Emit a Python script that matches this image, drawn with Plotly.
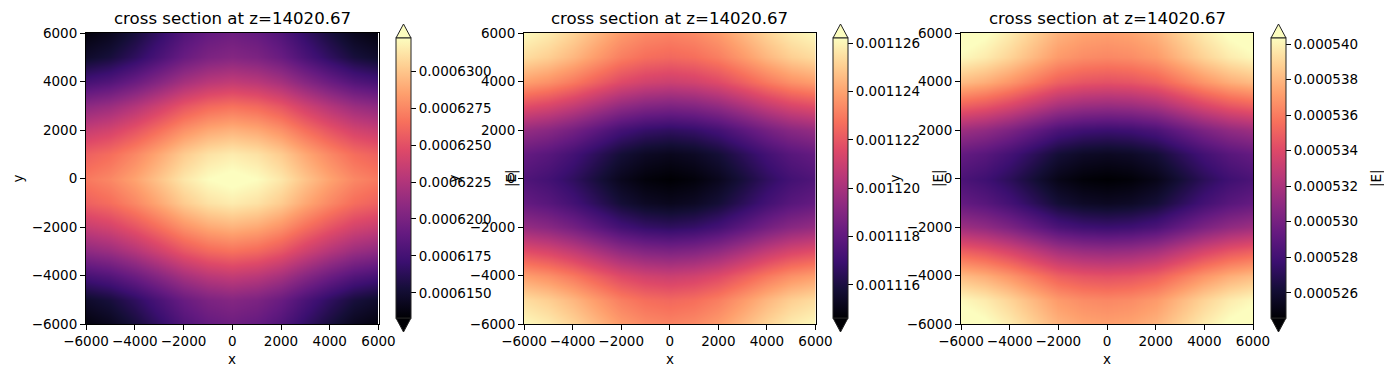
import plotly.graph_objects as go

W, H = 1392, 377
OFF = 8  # the page body adds an 8 px margin; the figure is drawn to fill the rest
FW, FH = W - OFF, H - OFF

x_vals = [-6000, -5000, -4000, -3000, -2000, -1000, 0, 1000, 2000, 3000, 4000, 5000, 6000]
y_vals = [6000, 5000, 4000, 3000, 2000, 1000, 0, -1000, -2000, -3000, -4000, -5000, -6000]

axis_ticks = [-6000, -4000, -2000, 0, 2000, 4000, 6000]
axis_ticktext = ["\u22126000", "\u22124000", "\u22122000", "0", "2000", "4000", "6000"]

title_text = "cross section at z=14020.67"

# |E| field, panel 1 (rows y = 6000 .. -6000, columns x = -6000 .. 6000)
E1 = [
    [6.137e-4, 6.143e-4, 6.154e-4, 6.167e-4, 6.181e-4, 6.190e-4, 6.194e-4, 6.190e-4, 6.181e-4, 6.167e-4, 6.154e-4, 6.143e-4, 6.137e-4],
    [6.148e-4, 6.154e-4, 6.165e-4, 6.178e-4, 6.192e-4, 6.201e-4, 6.205e-4, 6.201e-4, 6.192e-4, 6.178e-4, 6.165e-4, 6.154e-4, 6.148e-4],
    [6.176e-4, 6.182e-4, 6.193e-4, 6.206e-4, 6.220e-4, 6.229e-4, 6.233e-4, 6.229e-4, 6.220e-4, 6.206e-4, 6.193e-4, 6.182e-4, 6.176e-4],
    [6.209e-4, 6.215e-4, 6.226e-4, 6.239e-4, 6.253e-4, 6.262e-4, 6.266e-4, 6.262e-4, 6.253e-4, 6.239e-4, 6.226e-4, 6.215e-4, 6.209e-4],
    [6.235e-4, 6.241e-4, 6.252e-4, 6.265e-4, 6.279e-4, 6.288e-4, 6.292e-4, 6.288e-4, 6.279e-4, 6.265e-4, 6.252e-4, 6.241e-4, 6.235e-4],
    [6.258e-4, 6.264e-4, 6.275e-4, 6.288e-4, 6.302e-4, 6.311e-4, 6.315e-4, 6.311e-4, 6.302e-4, 6.288e-4, 6.275e-4, 6.264e-4, 6.258e-4],
    [6.269e-4, 6.275e-4, 6.286e-4, 6.299e-4, 6.313e-4, 6.322e-4, 6.326e-4, 6.322e-4, 6.313e-4, 6.299e-4, 6.286e-4, 6.275e-4, 6.269e-4],
    [6.258e-4, 6.264e-4, 6.275e-4, 6.288e-4, 6.302e-4, 6.311e-4, 6.315e-4, 6.311e-4, 6.302e-4, 6.288e-4, 6.275e-4, 6.264e-4, 6.258e-4],
    [6.235e-4, 6.241e-4, 6.252e-4, 6.265e-4, 6.279e-4, 6.288e-4, 6.292e-4, 6.288e-4, 6.279e-4, 6.265e-4, 6.252e-4, 6.241e-4, 6.235e-4],
    [6.209e-4, 6.215e-4, 6.226e-4, 6.239e-4, 6.253e-4, 6.262e-4, 6.266e-4, 6.262e-4, 6.253e-4, 6.239e-4, 6.226e-4, 6.215e-4, 6.209e-4],
    [6.176e-4, 6.182e-4, 6.193e-4, 6.206e-4, 6.220e-4, 6.229e-4, 6.233e-4, 6.229e-4, 6.220e-4, 6.206e-4, 6.193e-4, 6.182e-4, 6.176e-4],
    [6.148e-4, 6.154e-4, 6.165e-4, 6.178e-4, 6.192e-4, 6.201e-4, 6.205e-4, 6.201e-4, 6.192e-4, 6.178e-4, 6.165e-4, 6.154e-4, 6.148e-4],
    [6.137e-4, 6.143e-4, 6.154e-4, 6.167e-4, 6.181e-4, 6.190e-4, 6.194e-4, 6.190e-4, 6.181e-4, 6.167e-4, 6.154e-4, 6.143e-4, 6.137e-4],
]

# |E| field, panel 2
E2 = [
    [1.12611e-3, 1.12576e-3, 1.12518e-3, 1.12448e-3, 1.12379e-3, 1.12338e-3, 1.12321e-3, 1.12338e-3, 1.12379e-3, 1.12448e-3, 1.12518e-3, 1.12576e-3, 1.12611e-3],
    [1.12541e-3, 1.12506e-3, 1.12448e-3, 1.12378e-3, 1.12309e-3, 1.12268e-3, 1.12251e-3, 1.12268e-3, 1.12309e-3, 1.12378e-3, 1.12448e-3, 1.12506e-3, 1.12541e-3],
    [1.12390e-3, 1.12355e-3, 1.12297e-3, 1.12227e-3, 1.12158e-3, 1.12117e-3, 1.12100e-3, 1.12117e-3, 1.12158e-3, 1.12227e-3, 1.12297e-3, 1.12355e-3, 1.12390e-3],
    [1.12170e-3, 1.12135e-3, 1.12077e-3, 1.12007e-3, 1.11938e-3, 1.11897e-3, 1.11880e-3, 1.11897e-3, 1.11938e-3, 1.12007e-3, 1.12077e-3, 1.12135e-3, 1.12170e-3],
    [1.11950e-3, 1.11915e-3, 1.11857e-3, 1.11787e-3, 1.11718e-3, 1.11677e-3, 1.11660e-3, 1.11677e-3, 1.11718e-3, 1.11787e-3, 1.11857e-3, 1.11915e-3, 1.11950e-3],
    [1.11811e-3, 1.11776e-3, 1.11718e-3, 1.11648e-3, 1.11579e-3, 1.11538e-3, 1.11521e-3, 1.11538e-3, 1.11579e-3, 1.11648e-3, 1.11718e-3, 1.11776e-3, 1.11811e-3],
    [1.11753e-3, 1.11718e-3, 1.11660e-3, 1.11590e-3, 1.11521e-3, 1.11480e-3, 1.11463e-3, 1.11480e-3, 1.11521e-3, 1.11590e-3, 1.11660e-3, 1.11718e-3, 1.11753e-3],
    [1.11811e-3, 1.11776e-3, 1.11718e-3, 1.11648e-3, 1.11579e-3, 1.11538e-3, 1.11521e-3, 1.11538e-3, 1.11579e-3, 1.11648e-3, 1.11718e-3, 1.11776e-3, 1.11811e-3],
    [1.11950e-3, 1.11915e-3, 1.11857e-3, 1.11787e-3, 1.11718e-3, 1.11677e-3, 1.11660e-3, 1.11677e-3, 1.11718e-3, 1.11787e-3, 1.11857e-3, 1.11915e-3, 1.11950e-3],
    [1.12170e-3, 1.12135e-3, 1.12077e-3, 1.12007e-3, 1.11938e-3, 1.11897e-3, 1.11880e-3, 1.11897e-3, 1.11938e-3, 1.12007e-3, 1.12077e-3, 1.12135e-3, 1.12170e-3],
    [1.12390e-3, 1.12355e-3, 1.12297e-3, 1.12227e-3, 1.12158e-3, 1.12117e-3, 1.12100e-3, 1.12117e-3, 1.12158e-3, 1.12227e-3, 1.12297e-3, 1.12355e-3, 1.12390e-3],
    [1.12541e-3, 1.12506e-3, 1.12448e-3, 1.12378e-3, 1.12309e-3, 1.12268e-3, 1.12251e-3, 1.12268e-3, 1.12309e-3, 1.12378e-3, 1.12448e-3, 1.12506e-3, 1.12541e-3],
    [1.12611e-3, 1.12576e-3, 1.12518e-3, 1.12448e-3, 1.12379e-3, 1.12338e-3, 1.12321e-3, 1.12338e-3, 1.12379e-3, 1.12448e-3, 1.12518e-3, 1.12576e-3, 1.12611e-3],
]

# |E| field, panel 3
E3 = [
    [5.4097e-4, 5.4050e-4, 5.3971e-4, 5.3877e-4, 5.3782e-4, 5.3735e-4, 5.3719e-4, 5.3735e-4, 5.3782e-4, 5.3877e-4, 5.3971e-4, 5.4050e-4, 5.4097e-4],
    [5.4018e-4, 5.3971e-4, 5.3892e-4, 5.3798e-4, 5.3703e-4, 5.3656e-4, 5.3640e-4, 5.3656e-4, 5.3703e-4, 5.3798e-4, 5.3892e-4, 5.3971e-4, 5.4018e-4],
    [5.3813e-4, 5.3766e-4, 5.3687e-4, 5.3593e-4, 5.3498e-4, 5.3451e-4, 5.3435e-4, 5.3451e-4, 5.3498e-4, 5.3593e-4, 5.3687e-4, 5.3766e-4, 5.3813e-4],
    [5.3497e-4, 5.3450e-4, 5.3371e-4, 5.3277e-4, 5.3182e-4, 5.3135e-4, 5.3119e-4, 5.3135e-4, 5.3182e-4, 5.3277e-4, 5.3371e-4, 5.3450e-4, 5.3497e-4],
    [5.3150e-4, 5.3103e-4, 5.3024e-4, 5.2930e-4, 5.2835e-4, 5.2788e-4, 5.2772e-4, 5.2788e-4, 5.2835e-4, 5.2930e-4, 5.3024e-4, 5.3103e-4, 5.3150e-4],
    [5.2930e-4, 5.2883e-4, 5.2804e-4, 5.2710e-4, 5.2615e-4, 5.2568e-4, 5.2552e-4, 5.2568e-4, 5.2615e-4, 5.2710e-4, 5.2804e-4, 5.2883e-4, 5.2930e-4],
    [5.2835e-4, 5.2788e-4, 5.2709e-4, 5.2615e-4, 5.2520e-4, 5.2473e-4, 5.2457e-4, 5.2473e-4, 5.2520e-4, 5.2615e-4, 5.2709e-4, 5.2788e-4, 5.2835e-4],
    [5.2930e-4, 5.2883e-4, 5.2804e-4, 5.2710e-4, 5.2615e-4, 5.2568e-4, 5.2552e-4, 5.2568e-4, 5.2615e-4, 5.2710e-4, 5.2804e-4, 5.2883e-4, 5.2930e-4],
    [5.3150e-4, 5.3103e-4, 5.3024e-4, 5.2930e-4, 5.2835e-4, 5.2788e-4, 5.2772e-4, 5.2788e-4, 5.2835e-4, 5.2930e-4, 5.3024e-4, 5.3103e-4, 5.3150e-4],
    [5.3497e-4, 5.3450e-4, 5.3371e-4, 5.3277e-4, 5.3182e-4, 5.3135e-4, 5.3119e-4, 5.3135e-4, 5.3182e-4, 5.3277e-4, 5.3371e-4, 5.3450e-4, 5.3497e-4],
    [5.3813e-4, 5.3766e-4, 5.3687e-4, 5.3593e-4, 5.3498e-4, 5.3451e-4, 5.3435e-4, 5.3451e-4, 5.3498e-4, 5.3593e-4, 5.3687e-4, 5.3766e-4, 5.3813e-4],
    [5.4018e-4, 5.3971e-4, 5.3892e-4, 5.3798e-4, 5.3703e-4, 5.3656e-4, 5.3640e-4, 5.3656e-4, 5.3703e-4, 5.3798e-4, 5.3892e-4, 5.3971e-4, 5.4018e-4],
    [5.4097e-4, 5.4050e-4, 5.3971e-4, 5.3877e-4, 5.3782e-4, 5.3735e-4, 5.3719e-4, 5.3735e-4, 5.3782e-4, 5.3877e-4, 5.3971e-4, 5.4050e-4, 5.4097e-4],
]

# colour limits
zlims = [(6.1331e-4, 6.3223e-4), (1.11463e-3, 1.12622e-3), (5.2458e-4, 5.4034e-4)]

# colorbar ticks
cb_ticks1 = [6.150e-4, 6.175e-4, 6.200e-4, 6.225e-4, 6.250e-4, 6.275e-4, 6.300e-4]
cb_text1 = ["0.0006150", "0.0006175", "0.0006200", "0.0006225", "0.0006250", "0.0006275", "0.0006300"]
cb_ticks2 = [1.116e-3, 1.118e-3, 1.120e-3, 1.122e-3, 1.124e-3, 1.126e-3]
cb_text2 = ["0.001116", "0.001118", "0.001120", "0.001122", "0.001124", "0.001126"]
cb_ticks3 = [5.26e-4, 5.28e-4, 5.30e-4, 5.32e-4, 5.34e-4, 5.36e-4, 5.38e-4, 5.40e-4]
cb_text3 = ["0.000526", "0.000528", "0.000530", "0.000532", "0.000534", "0.000536", "0.000538", "0.000540"]

magma = [
    [0.0, "#000004"], [0.1, "#140e36"], [0.2, "#3b0f70"], [0.3, "#641a80"],
    [0.4, "#8c2981"], [0.5, "#b73779"], [0.6, "#de4968"], [0.7, "#f7705c"],
    [0.8, "#fe9f6d"], [0.9, "#fecf92"], [1.0, "#fcfdbf"],
]

FONT = "DejaVu Sans"
TICK_SIZE = 13.5
TITLE_SIZE = 16.6

# layout in page pixels (as seen in the reference)
plot_px = [(86, 378.5), (524, 815.5), (961, 1253)]
plot_top, plot_bot = 33, 324
cb_left = [396, 833, 1271]
cb_w = 15
cb_top, cb_bot = 38, 318
arrow_h = 14
ylabel_px = [17, 453, 894]
cblabel_px = [511, 938, 1376]


def px(v):
    return (v - OFF) / FW


def py(v):
    return 1 - (v - OFF) / FH


fig = go.Figure()
fields = [E1, E2, E3]
cb_ticks = [cb_ticks1, cb_ticks2, cb_ticks3]
cb_texts = [cb_text1, cb_text2, cb_text3]

annotations = []
shapes = []
for i in range(3):
    xa = "x" if i == 0 else f"x{i+1}"
    ya = "y" if i == 0 else f"y{i+1}"
    fig.add_trace(go.Heatmap(
        x=x_vals, y=y_vals, z=fields[i],
        zmin=zlims[i][0], zmax=zlims[i][1],
        colorscale=magma, zsmooth="best",
        xaxis=xa, yaxis=ya,
        colorbar=dict(
            x=px(cb_left[i]), xanchor="left", xpad=0, ypad=0,
            y=py((cb_top + cb_bot) / 2), yanchor="middle",
            len=(cb_bot - cb_top) / FH, lenmode="fraction",
            thickness=cb_w, thicknessmode="pixels",
            outlinewidth=1, outlinecolor="#222222",
            tickvals=cb_ticks[i], ticktext=cb_texts[i],
            ticks="outside", ticklen=5, tickwidth=1, tickcolor="black",
            tickfont=dict(family=FONT, size=TICK_SIZE, color="black"),
        ),
        hoverinfo="skip",
    ))
    axis_common = dict(
        range=[-6000, 6000], tickvals=axis_ticks, ticktext=axis_ticktext,
        ticks="outside", ticklen=5, tickwidth=1, tickcolor="black", tickangle=0,
        showline=True, linecolor="black", linewidth=1, mirror=True,
        showgrid=False, zeroline=False, automargin=False,
        tickfont=dict(family=FONT, size=TICK_SIZE, color="black"),
    )
    fig.update_layout(**{
        ("xaxis" if i == 0 else f"xaxis{i+1}"): dict(
            domain=[px(plot_px[i][0]), px(plot_px[i][1])], anchor=ya, **axis_common),
        ("yaxis" if i == 0 else f"yaxis{i+1}"): dict(
            domain=[py(plot_bot), py(plot_top)], anchor=xa, **axis_common),
    })
    cx = (plot_px[i][0] + plot_px[i][1]) / 2
    annotations.append(dict(text=title_text, x=px(cx), y=py(18), xref="paper", yref="paper",
                            xanchor="center", yanchor="middle", showarrow=False,
                            font=dict(family=FONT, size=TITLE_SIZE, color="black")))
    annotations.append(dict(text="x", x=px(cx), y=py(359), xref="paper", yref="paper",
                            xanchor="center", yanchor="middle", showarrow=False,
                            font=dict(family=FONT, size=TICK_SIZE, color="black")))
    annotations.append(dict(text="y", x=px(ylabel_px[i]), y=py((plot_top + plot_bot) / 2),
                            xref="paper", yref="paper", textangle=-90,
                            xanchor="center", yanchor="middle", showarrow=False,
                            font=dict(family=FONT, size=TICK_SIZE, color="black")))
    annotations.append(dict(text="|E|", x=px(cblabel_px[i]), y=py((cb_top + cb_bot) / 2),
                            xref="paper", yref="paper", textangle=-90,
                            xanchor="center", yanchor="middle", showarrow=False,
                            font=dict(family=FONT, size=TICK_SIZE, color="black")))
    # extend arrows on the colorbar
    l, r = cb_left[i], cb_left[i] + cb_w
    m = (l + r) / 2
    shapes.append(dict(type="path", xref="paper", yref="paper",
                       path=f"M {px(l)},{py(cb_top)} L {px(r)},{py(cb_top)} L {px(m)},{py(cb_top - arrow_h)} Z",
                       fillcolor=magma[-1][1], line=dict(color="#222222", width=1)))
    shapes.append(dict(type="path", xref="paper", yref="paper",
                       path=f"M {px(l)},{py(cb_bot)} L {px(r)},{py(cb_bot)} L {px(m)},{py(cb_bot + arrow_h)} Z",
                       fillcolor=magma[0][1], line=dict(color="#222222", width=1)))

fig.update_layout(
    width=FW, height=FH,
    margin=dict(l=0, r=0, t=0, b=0, autoexpand=False),
    paper_bgcolor="white", plot_bgcolor="white",
    annotations=annotations, shapes=shapes,
    showlegend=False,
    font=dict(family=FONT, color="black"),
)

fig.write_html("out.html")
